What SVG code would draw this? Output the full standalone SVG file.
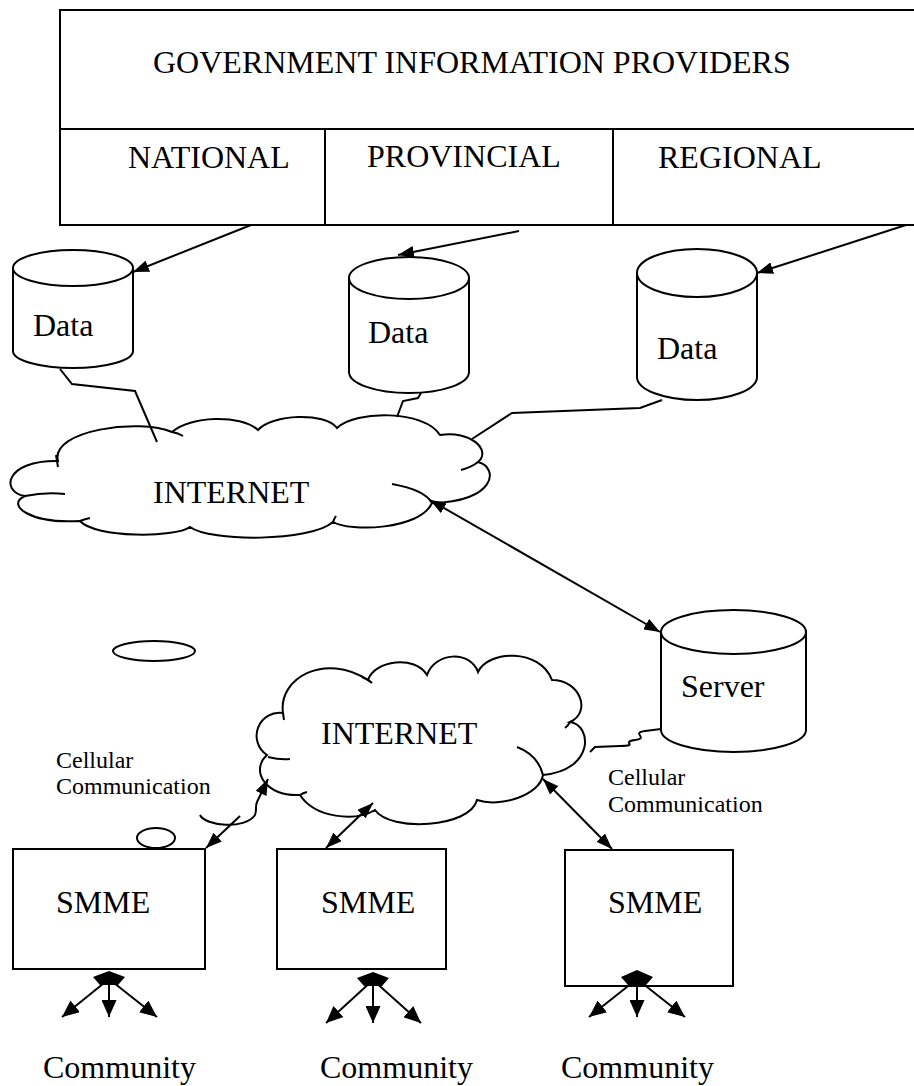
<svg xmlns="http://www.w3.org/2000/svg" width="914" height="1086" viewBox="0 0 914 1086">
<style>
.s{fill:none;stroke:#000;stroke-width:2}
.w{fill:#fff;stroke:#000;stroke-width:2}
.t{font-family:"Liberation Serif","Times New Roman",serif;font-size:32px;fill:#000}
.c{font-family:"Liberation Serif","Times New Roman",serif;font-size:24px;fill:#000}
.a{fill:none;stroke:#000;stroke-width:2;marker-end:url(#ah)}
.d{fill:none;stroke:#000;stroke-width:2;marker-end:url(#ah);marker-start:url(#ah)}
.f{fill:none;stroke:#000;stroke-width:2;marker-end:url(#ab)}
</style>
<defs>
<marker id="ah" viewBox="0 0 16 12" refX="16" refY="6" markerWidth="16" markerHeight="12" markerUnits="userSpaceOnUse" orient="auto-start-reverse"><path d="M0,0 L16,6 L0,12 z" fill="#000"/></marker>
<marker id="ab" viewBox="0 0 17 15" refX="17" refY="7.5" markerWidth="17" markerHeight="15" markerUnits="userSpaceOnUse" orient="auto"><path d="M0,0 L17,7.5 L0,15 z" fill="#000"/></marker>
</defs>

<g id="providers">
<rect x="60" y="10" width="870" height="215" class="s"/>
<line x1="60" y1="129" x2="930" y2="129" class="s"/>
<line x1="325" y1="129" x2="325" y2="225" class="s"/>
<line x1="613" y1="129" x2="613" y2="225" class="s"/>
<text x="153" y="73" class="t">GOVERNMENT INFORMATION PROVIDERS</text>
<text x="128" y="168" class="t">NATIONAL</text>
<text x="367" y="167" class="t">PROVINCIAL</text>
<text x="658" y="168" class="t">REGIONAL</text>
</g>

<g id="data1">
<path d="M13,268 L13,351 A60,17 0 0 0 133,351 L133,268 Z" class="w"/>
<ellipse cx="73" cy="268" rx="60" ry="18" class="w"/>
<text x="33" y="336" class="t">Data</text>
</g>
<g id="data2">
<path d="M349,278 L349,372 A60,21 0 0 0 469,372 L469,278 Z" class="w"/>
<ellipse cx="409" cy="278" rx="60" ry="21" class="w"/>
<text x="368" y="343" class="t">Data</text>
</g>
<g id="data3">
<path d="M637,273 L637,377 A60,23 0 0 0 757,377 L757,273 Z" class="w"/>
<ellipse cx="697" cy="273" rx="60" ry="24" class="w"/>
<text x="657" y="359" class="t">Data</text>
</g>

<g id="internet1">
<path class="w" d="M25,496 C0,492 5,460 58,461 C50,430 140,418 172,432 C190,416 240,414 258,430 C272,414 325,412 337,428 C355,410 425,410 440,435 C470,430 492,450 478,462 C500,468 495,502 432,503 C420,530 350,532 333,522 C310,542 210,542 190,527 C175,538 95,538 80,521 C30,524 5,505 25,496 Z"/>
<path class="s" d="M56,455 Q57,461 58,467 M25,496 Q45,492 65,494 M80,521 Q85,519 90,518 M172,432 Q178,433 183,436 M478,462 Q472,467 461,470 M392,484 Q425,490 432,503 M333,522 Q334,519 336,516"/>
<text x="153" y="503" class="t">INTERNET</text>
</g>

<g id="server">
<path d="M661,632 L661,730 A72.5,22 0 0 0 806,730 L806,632 Z" class="w"/>
<ellipse cx="733.5" cy="632" rx="72.5" ry="22" class="w"/>
<text x="681" y="697" class="t">Server</text>
</g>

<g id="ellipse-small1"><ellipse cx="154" cy="651" rx="41" ry="10" class="s"/></g>
<g id="ellipse-small2"><ellipse cx="156" cy="838" rx="19" ry="10" class="s"/></g>

<g id="internet2">
<path class="w" d="M267,755 A23,23 0 0 1 283,713 C278,678 325,652 368,680 C375,660 415,655 427,675 C435,652 470,650 478,672 C488,650 540,648 552,680 C580,680 592,712 570,722 C592,725 595,770 543,775 C540,795 500,808 477,800 C470,828 390,832 375,810 C355,822 315,818 300,795 C265,797 250,770 267,755 Z"/>
<path class="s" d="M283,713 L284,720 M268,757 Q280,760 290,759 M300,795 Q303,793 307,792 M362,677 Q368,679 372,683 M570,722 Q568,726 565,728 M517,747 Q538,755 543,775"/>
<text x="321" y="744" class="t">INTERNET</text>
</g>

<g id="smme1">
<rect x="13" y="849" width="192" height="120" class="w"/>
<text x="56" y="913" class="t">SMME</text>
</g>
<g id="smme2">
<rect x="277" y="849" width="169" height="120" class="w"/>
<text x="321" y="913" class="t">SMME</text>
</g>
<g id="smme3">
<rect x="565" y="850" width="168" height="136" class="w"/>
<text x="608" y="913" class="t">SMME</text>
</g>

<g id="labels">
<text x="56" y="768" class="c">Cellular</text>
<text x="56" y="794" class="c">Communication</text>
<text x="608" y="785" class="c">Cellular</text>
<text x="608" y="812" class="c">Communication</text>
<text x="43" y="1078" class="t">Community</text>
<text x="320" y="1078" class="t">Community</text>
<text x="561" y="1078" class="t">Community</text>
</g>

<g id="connectors">
<line x1="251" y1="225" x2="133" y2="272" class="a"/>
<line x1="519" y1="231" x2="398" y2="255" class="a"/>
<line x1="906" y1="225" x2="757" y2="273" class="a"/>
<path d="M60,369 L72,384 L135,391 L157,442" class="s"/>
<path d="M421,393 L418,398 L403,401 L397,417" class="s"/>
<path d="M662,400 L640,408 L512,413 L472,439" class="s"/>
<line x1="430" y1="500" x2="660" y2="632" class="d"/>
<path d="M661,729 L645,731 C630,733 650,738 635,740 C620,742 640,746 620,746 L595,747 L590,752" class="s"/>
<line x1="240" y1="816" x2="206" y2="848" class="a"/>
<path d="M200,815 C205,826 245,830 255,815 C257,810 255,806 257,802 L268,779" class="a"/>
<line x1="373" y1="803" x2="326" y2="848" class="d"/>
<line x1="543" y1="779" x2="612" y2="849" class="d"/>
<polygon points="93,977 109,971 125,977 118,985 100,985"/>
<line x1="109" y1="979" x2="62" y2="1017" class="f"/>
<line x1="109" y1="979" x2="109" y2="1017" class="f"/>
<line x1="109" y1="979" x2="157" y2="1017" class="f"/>
<polygon points="357,978 373,972 389,978 382,986 364,986"/>
<line x1="373" y1="980" x2="326" y2="1023" class="f"/>
<line x1="373" y1="980" x2="373" y2="1023" class="f"/>
<line x1="373" y1="980" x2="421" y2="1023" class="f"/>
<polygon points="621,977 637,970 653,977 646,985 628,985"/>
<line x1="637" y1="979" x2="589" y2="1017" class="f"/>
<line x1="637" y1="979" x2="637" y2="1017" class="f"/>
<line x1="637" y1="979" x2="685" y2="1017" class="f"/>
</g>
</svg>
